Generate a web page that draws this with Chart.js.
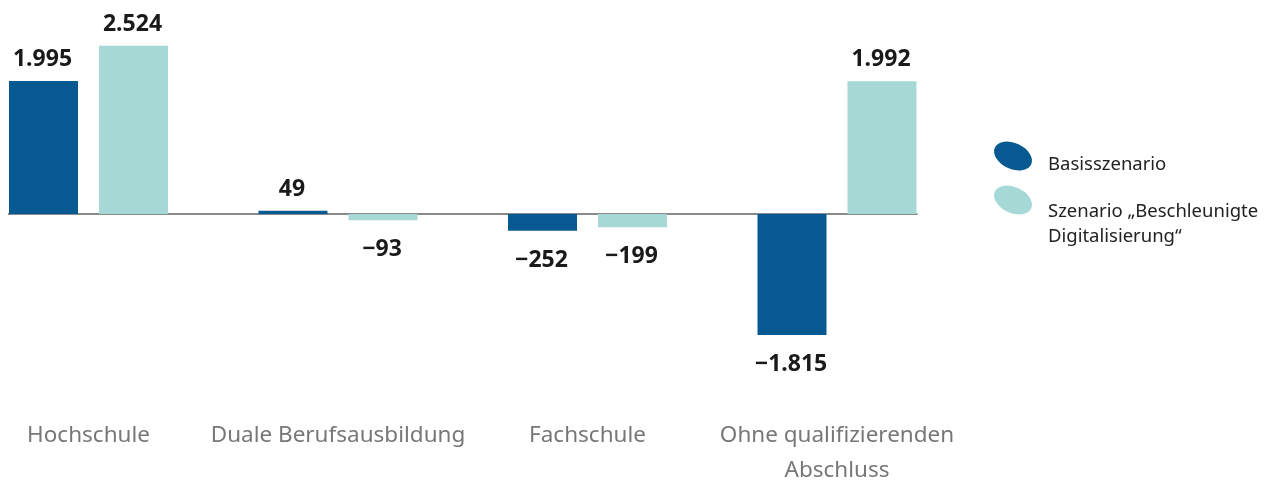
<!DOCTYPE html>
<html>
<head>
<meta charset="utf-8">
<script src="https://cdn.jsdelivr.net/npm/chart.js@4/dist/chart.umd.min.js"></script>
<style>
  html, body { margin: 0; padding: 0; background: #fff; }
  #wrap { position: relative; width: 1269px; height: 484px; }
  #legend { position: absolute; left: 0; top: 0; font-family: "Noto Sans", sans-serif; font-size: 18.5px; line-height: 25px; color: #222; }
  .item { position: absolute; white-space: nowrap; }
  .dot { position: absolute; width: 40px; height: 26px; border-radius: 50%; transform: rotate(25deg); }
</style>
</head>
<body>
<div id="wrap">
  <canvas id="chart"></canvas>
  <div id="legend"></div>
</div>
<script>
const categories = ['Hochschule', 'Duale Berufsausbildung', 'Fachschule', ['Ohne qualifizierenden', 'Abschluss']];
const basisValues = [1995, 49, -252, -1815];
const digitalValues = [2524, -93, -199, 1992];
const seriesNames = ['Basisszenario', 'Szenario „Beschleunigte Digitalisierung“'];
const legendLines = [['Basisszenario'], ['Szenario „Beschleunigte', 'Digitalisierung“']];
const colors = ['#065a91', '#a6d8d5'];

function fmt(v) {
    const s = Math.abs(v).toString().replace(/\B(?=(\d{3})+(?!\d))/g, '.');
    return (v < 0 ? '\u2212' : '') + s;
}

// grey zero line running under all bars, also beyond the chart area
const zeroLine = {
    id: 'zeroLine',
    beforeDatasetsDraw(chart) {
        const ctx = chart.ctx;
        const y = chart.scales.y.getPixelForValue(0);
        const first = chart.getDatasetMeta(0).data[0];
        const last = chart.getDatasetMeta(1).data[categories.length - 1];
        const x0 = first.x - first.width / 2 - 1;
        const x1 = last.x + last.width / 2 + 1;
        ctx.save();
        ctx.strokeStyle = '#8a8a8a';
        ctx.lineWidth = 2;
        ctx.beginPath();
        ctx.moveTo(x0, y);
        ctx.lineTo(x1, y);
        ctx.stroke();
        ctx.restore();
    }
};

const valueLabels = {
    id: 'valueLabels',
    afterDatasetsDraw(chart) {
        const ctx = chart.ctx;
        ctx.save();
        ctx.font = 'bold 23px "Noto Sans"';
        ctx.fillStyle = '#1a1a1a';
        ctx.textAlign = 'center';
        ctx.textBaseline = 'alphabetic';
        chart.data.datasets.forEach((ds, i) => {
            chart.getDatasetMeta(i).data.forEach((bar, j) => {
                const v = ds.data[j];
                const y = v >= 0 ? Math.min(bar.y, bar.base) - 15 : Math.max(bar.y, bar.base) + 36;
                ctx.fillText(fmt(v), bar.x - 1, y);
            });
        });
        ctx.restore();
    }
};

new Chart(document.getElementById('chart'), {
    type: 'bar',
    data: {
        labels: categories,
        datasets: [
            { label: seriesNames[0], data: basisValues, backgroundColor: colors[0], clip: false },
            { label: seriesNames[1], data: digitalValues, backgroundColor: colors[1], clip: false }
        ]
    },
    options: {
        responsive: true,
        maintainAspectRatio: false,
        animation: false,
        categoryPercentage: 0.7214,
        barPercentage: 0.7667,
        layout: { padding: { left: 88.5, right: 432, top: 14, bottom: 0 } },
        plugins: { legend: { display: false }, tooltip: { enabled: false } },
        scales: {
            x: {
                offset: false,
                grid: { display: false, drawTicks: false },
                border: { display: false },
                ticks: { color: '#777', padding: 4, maxRotation: 0, autoSkip: false, font: { family: 'Noto Sans', size: 22.5, lineHeight: 1.55 } },
                afterFit: s => { s.height = 70; }
            },
            y: { display: false, min: -3000, max: 3000 }
        }
    },
    plugins: [zeroLine, valueLabels]
});

let html = '';
legendLines.forEach((lines, i) => {
    const cy = 156 + i * 44;
    html += `<div class="dot" style="left:${1013 - 20}px;top:${cy - 13}px;background:${colors[i]}"></div>`;
    html += `<div class="item" style="left:1048px;top:${150 + i * 47}px">${lines.join('<br>')}</div>`;
});
document.getElementById('legend').innerHTML = html;
</script>
</body>
</html>
